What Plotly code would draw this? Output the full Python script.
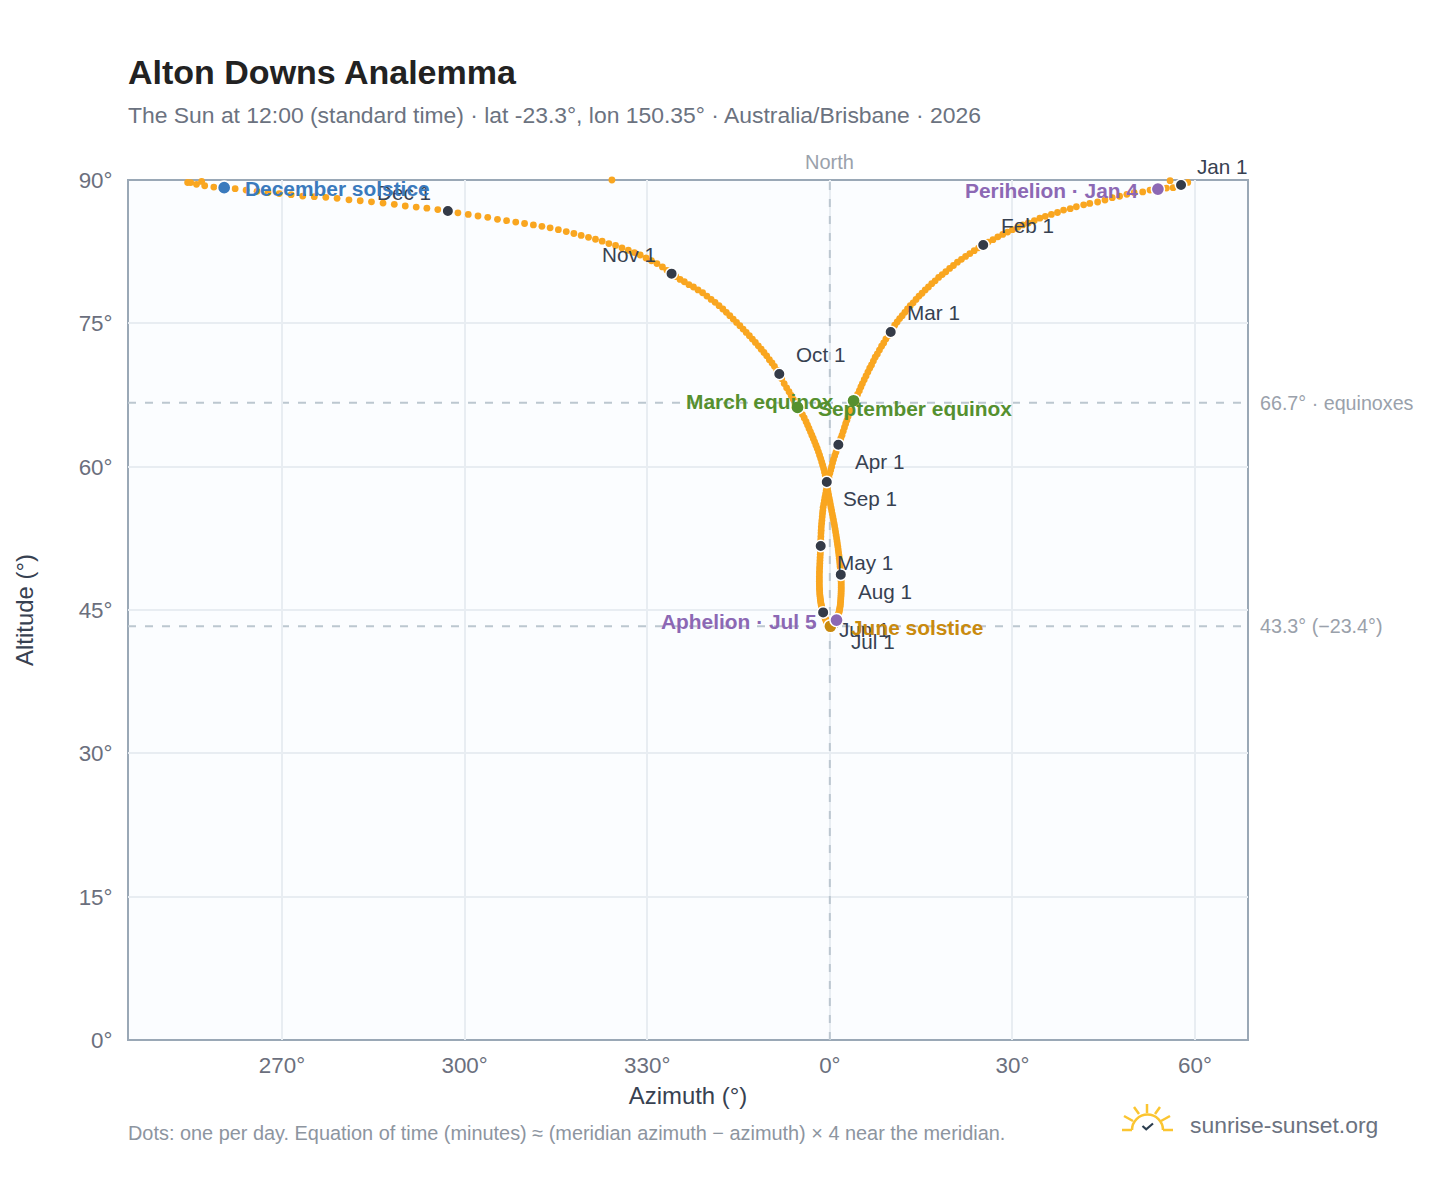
import plotly.graph_objects as go

# Daily sun positions (azimuth relative to north, altitude), degrees
az_jan = [57.7,56.4,55.3,53.9,52.6,51.4,50.0,48.8,47.6,46.4,45.2,44.0,42.7,41.7,40.5,39.5,38.4,37.4,36.4,35.4,34.5,33.6,32.6,31.7,30.9,30.0,29.2,28.4,27.6,26.8,26.0]
alt_jan = [89.47,89.2,89.15,89.05,88.95,88.75,88.67,88.5,88.3,88.15,87.9,87.7,87.55,87.4,87.2,87.0,86.85,86.6,86.4,86.2,86.0,85.75,85.5,85.3,85.05,84.8,84.55,84.3,84.05,83.75,83.5]
az_feb = [25.2,24.45,23.72,23.0,22.3,21.62,20.96,20.31,19.68,19.06,18.46,17.87,17.3,16.74,16.2,15.67,15.15,14.65,14.16,13.68,13.21,12.76,12.32,11.89,11.47,11.06,10.66,10.35]
alt_feb = [83.2,82.9,82.6,82.3,82.0,81.7,81.4,81.05,80.75,80.4,80.1,79.8,79.45,79.15,78.8,78.5,78.15,77.85,77.5,77.15,76.85,76.5,76.15,75.8,75.5,75.15,74.8,74.45]
az_mar = [10.0,9.6,9.2,8.85,8.5,8.15,7.8,7.45,7.15,6.85,6.55,6.25,5.95,5.65,5.35,5.1,4.85,4.55,4.2,3.9,3.65,3.4,3.2,3.0,2.8,2.6,2.4,2.2,2.0,1.8,1.6]
alt_mar = [74.1,73.7,73.35,72.95,72.6,72.2,71.8,71.45,71.05,70.65,70.3,69.9,69.5,69.1,68.7,68.35,67.95,67.55,67.2,66.9,66.45,66.05,65.65,65.25,64.85,64.5,64.1,63.7,63.3,62.95,62.6]
az_apr = [1.4,1.2,1.0,0.8,0.6,0.45,0.3,0.15,0.0,-0.15,-0.3,-0.4,-0.5,-0.6,-0.7,-0.8,-0.9,-1.0,-1.1,-1.15,-1.2,-1.25,-1.3,-1.35,-1.4,-1.42,-1.45,-1.47,-1.49,-1.5]
alt_apr = [62.3,61.9,61.5,61.15,60.75,60.4,60.0,59.65,59.3,58.9,58.55,58.2,57.85,57.5,57.15,56.8,56.45,56.1,55.75,55.4,55.1,54.75,54.4,54.05,53.7,53.35,53.05,52.7,52.35,52.05]
az_may = [-1.5,-1.52,-1.55,-1.57,-1.6,-1.62,-1.64,-1.66,-1.68,-1.7,-1.71,-1.72,-1.72,-1.72,-1.72,-1.71,-1.7,-1.68,-1.66,-1.64,-1.6,-1.57,-1.53,-1.49,-1.45,-1.4,-1.35,-1.3,-1.25,-1.2,-1.15]
alt_may = [51.7,51.4,51.1,50.8,50.5,50.2,49.9,49.6,49.35,49.05,48.8,48.5,48.25,48.0,47.75,47.5,47.25,47.05,46.8,46.6,46.4,46.2,46.0,45.85,45.65,45.5,45.35,45.2,45.05,44.9,44.85]
az_jun = [-1.1,-1.04,-0.98,-0.92,-0.86,-0.8,-0.74,-0.68,-0.62,-0.56,-0.5,-0.44,-0.38,-0.32,-0.26,-0.2,-0.14,-0.08,-0.02,0.04,0.1,0.16,0.22,0.28,0.34,0.4,0.46,0.52,0.58,0.64]
alt_jun = [44.75,44.6,44.5,44.4,44.3,44.2,44.1,44.0,43.9,43.85,43.75,43.7,43.6,43.55,43.5,43.45,43.4,43.35,43.33,43.3,43.3,43.3,43.3,43.32,43.34,43.37,43.4,43.43,43.46,43.48]
az_jul = [0.7,0.8,0.9,1.0,1.1,1.18,1.25,1.32,1.38,1.44,1.5,1.55,1.6,1.65,1.69,1.72,1.75,1.78,1.8,1.82,1.84,1.85,1.86,1.87,1.87,1.87,1.87,1.86,1.85,1.84,1.82]
alt_jul = [43.5,43.6,43.7,43.8,43.95,44.05,44.2,44.3,44.45,44.6,44.75,44.9,45.05,45.2,45.4,45.55,45.75,45.95,46.15,46.35,46.55,46.75,46.95,47.15,47.35,47.55,47.75,47.95,48.15,48.3,48.5]
az_aug = [1.8,1.77,1.73,1.69,1.65,1.6,1.55,1.5,1.44,1.38,1.32,1.25,1.18,1.11,1.03,0.95,0.87,0.78,0.69,0.6,0.5,0.4,0.3,0.2,0.1,0.0,-0.1,-0.2,-0.3,-0.4,-0.45]
alt_aug = [48.7,48.98,49.26,49.55,49.83,50.12,50.42,50.71,51.01,51.31,51.61,51.92,52.22,52.53,52.84,53.15,53.47,53.79,54.1,54.42,54.74,55.07,55.39,55.72,56.05,56.38,56.71,57.04,57.37,57.71,58.05]
az_sep = [-0.5,-0.62,-0.75,-0.88,-1.02,-1.17,-1.33,-1.5,-1.68,-1.87,-2.07,-2.28,-2.5,-2.72,-2.95,-3.18,-3.42,-3.66,-3.9,-4.2,-4.5,-4.9,-5.3,-5.65,-6.0,-6.35,-6.7,-7.1,-7.5,-7.9]
alt_sep = [58.4,58.75,59.1,59.45,59.8,60.15,60.5,60.85,61.2,61.55,61.9,62.25,62.6,62.95,63.3,63.65,64.0,64.35,64.7,65.1,65.45,65.85,66.2,66.65,67.05,67.45,67.85,68.25,68.7,69.2]
az_oct = [-8.3,-8.7,-9.1,-9.5,-9.93,-10.37,-10.82,-11.28,-11.75,-12.23,-12.72,-13.22,-13.73,-14.25,-14.78,-15.32,-15.87,-16.43,-17.0,-17.58,-18.2,-18.85,-19.5,-20.2,-20.9,-21.65,-22.4,-23.15,-23.9,-24.6,-25.3]
alt_oct = [69.7,70.1,70.5,70.85,71.2,71.6,71.95,72.3,72.65,73.0,73.35,73.7,74.05,74.4,74.75,75.1,75.45,75.8,76.15,76.5,76.85,77.2,77.5,77.85,78.2,78.5,78.8,79.05,79.35,79.6,79.9]
az_nov = [-26.0,-26.75,-27.5,-28.4,-29.3,-30.2,-31.15,-32.1,-33.1,-34.15,-35.2,-36.3,-37.4,-38.5,-39.65,-40.85,-42.05,-43.3,-44.6,-45.95,-47.3,-48.7,-50.15,-51.6,-53.1,-54.6,-56.2,-57.8,-59.4,-61.1]
alt_nov = [80.2,80.55,80.9,81.25,81.55,81.85,82.15,82.4,82.65,82.9,83.15,83.35,83.6,83.8,84.0,84.2,84.4,84.6,84.8,85.0,85.15,85.3,85.45,85.6,85.74,85.88,86.09,86.23,86.4,86.57]
az_dec = [-62.75,-64.4,-66.2,-67.95,-69.75,-71.55,-73.4,-75.3,-77.15,-79.0,-80.95,-82.8,-84.7,-86.6,-88.5,-90.45,-92.3,-94.1,-95.9,-97.7,-99.5,-101.2,-102.7,-104.05,-105.0,-105.5,-103.2,-35.8,55.9,58.0,58.8]
alt_dec = [86.75,86.9,87.05,87.17,87.28,87.45,87.59,87.72,87.83,87.93,88.08,88.19,88.25,88.32,88.46,88.58,88.69,88.81,88.95,89.09,89.2,89.26,89.4,89.55,89.73,89.74,89.85,90.0,89.93,89.6,89.75]

azimuth = az_jan+az_feb+az_mar+az_apr+az_may+az_jun+az_jul+az_aug+az_sep+az_oct+az_nov+az_dec
altitude = alt_jan+alt_feb+alt_mar+alt_apr+alt_may+alt_jun+alt_jul+alt_aug+alt_sep+alt_oct+alt_nov+alt_dec

month_labels = ["Jan 1","Feb 1","Mar 1","Apr 1","May 1","Jun 1","Jul 1","Aug 1","Sep 1","Oct 1","Nov 1","Dec 1"]
month_az = [az_jan[0],az_feb[0],az_mar[0],az_apr[0],az_may[0],az_jun[0],az_jul[0],az_aug[0],az_sep[0],az_oct[0],az_nov[0],az_dec[0]]
month_alt = [alt_jan[0],alt_feb[0],alt_mar[0],alt_apr[0],alt_may[0],alt_jun[0],alt_jul[0],alt_aug[0],alt_sep[0],alt_oct[0],alt_nov[0],alt_dec[0]]
month_offset = [(14,-19,"left"),(16,-19,"left"),(14,-19,"left"),(15,17,"left"),(14,17,"left"),(14,17,"left"),(15,17,"left"),(15,17,"left"),(14,17,"left"),(15,-19,"left"),(-14,-19,"right"),(-15,-19,"right")]

event_labels = ["June solstice","December solstice","March equinox","September equinox","Perihelion · Jan 4","Aphelion · Jul 5"]
event_az = [az_jun[20],az_dec[20],az_mar[19],az_sep[22],az_jan[3],az_jul[4]]
event_alt = [alt_jun[20],alt_dec[20],alt_mar[19],alt_sep[22],alt_jan[3],alt_jul[4]]
event_colors = ["#c98a0e","#3a7abd","#55902f","#55902f","#8c68b4","#8c68b4"]
event_offset = [(19,1,"left"),(19,1,"left"),(-18,1,"right"),(18,1,"left"),(-18,1,"right"),(-18,1,"right")]

x_ticks = [-90,-60,-30,0,30,60]
x_labels = ["270°","300°","330°","0°","30°","60°"]
y_ticks = [0,15,30,45,60,75,90]
y_labels = ["0°","15°","30°","45°","60°","75°","90°"]
guide_alts = [66.7,43.3]
guide_labels = ["66.7° · equinoxes","43.3° (−23.4°)"]
north_az = [0,0]
north_alt = [0,90]

FONT = "Liberation Sans"
W, H = 1448, 1188
L, R, T, B = 128, 1248, 180, 1040
px = lambda v: (v-L)/(R-L)
py = lambda v: (B-v)/(B-T)

fig = go.Figure()
fig.add_trace(go.Scatter(x=north_az,y=north_alt,mode="lines",showlegend=False,
    line=dict(color="#bcc7d0",width=2,dash="8px,9px")))
fig.add_trace(go.Scatter(x=azimuth,y=altitude,mode="markers",cliponaxis=False,showlegend=False,
    marker=dict(color="#f9a620",size=6.8,line=dict(width=0))))
fig.add_trace(go.Scatter(x=month_az,y=month_alt,mode="markers",cliponaxis=False,showlegend=False,
    marker=dict(color="#343b48",size=11.5,line=dict(width=1.5,color="white"))))
fig.add_trace(go.Scatter(x=event_az,y=event_alt,mode="markers",cliponaxis=False,showlegend=False,
    marker=dict(color=event_colors,size=13.2,line=dict(width=1.5,color="white"))))

ann = []
for t,x,y,(dx,dy,anc) in zip(month_labels,month_az,month_alt,month_offset):
    ann.append(dict(x=x,y=y,text=t,showarrow=False,xanchor=anc,yanchor="middle",xshift=dx,yshift=-dy,
        font=dict(family=FONT,size=20.7,color="#374151")))
for t,x,y,c,(dx,dy,anc) in zip(event_labels,event_az,event_alt,event_colors,event_offset):
    ann.append(dict(x=x,y=y,text="<b>%s</b>"%t,showarrow=False,xanchor=anc,yanchor="middle",xshift=dx,yshift=-dy,
        font=dict(family=FONT,size=20.9,color=c)))
for t,y in zip(guide_labels,guide_alts):
    ann.append(dict(xref="paper",x=1,y=y,text=t,showarrow=False,xanchor="left",yanchor="middle",xshift=10,
        font=dict(family=FONT,size=19.7,color="#9aa1ab")))
ann.append(dict(x=0,yref="paper",y=1,text="North",showarrow=False,xanchor="center",yanchor="bottom",yshift=5,
    font=dict(family=FONT,size=20,color="#9aa1ab")))
def ptext(t,x,y,size,color,anchor="left",bold=False):
    return dict(xref="paper",yref="paper",x=px(x),y=py(y),text="<b>%s</b>"%t if bold else t,showarrow=False,
        xanchor=anchor,yanchor="middle",font=dict(family=FONT,size=size,color=color))
ann += [
    ptext("Alton Downs Analemma",126,72,34,"#222222",bold=True),
    ptext("The Sun at 12:00 (standard time) · lat -23.3°, lon 150.35° · Australia/Brisbane · 2026",126,115,22.9,"#6b7280"),
    ptext("Dots: one per day. Equation of time (minutes) ≈ (meridian azimuth − azimuth) × 4 near the meridian.",126,1133,19.9,"#8d959f"),
    ptext("sunrise-sunset.org",1188,1125,22.9,"#6b7280"),
]

# plot frame drawn centred on the plot edge
shapes = [dict(type="rect",xref="paper",yref="paper",x0=0,x1=1,y0=0,y1=1,layer="below",line=dict(color="#9aa8b6",width=2),fillcolor="rgba(0,0,0,0)")]
for y in guide_alts:
    shapes.append(dict(type="line",xref="paper",x0=0,x1=1,y0=y,y1=y,layer="below",line=dict(color="#bcc7d0",width=2,dash="8px,9px")))

# Logo
SUN = "#fbc531"
def seg(a,b,color=SUN,width=2.5):
    return dict(type="line",xref="paper",yref="paper",x0=px(a[0]),y0=py(a[1]),x1=px(b[0]),y1=py(b[1]),line=dict(color=color,width=width))
for a,b in [((1122,1130),(1132,1130)),((1163,1130),(1173,1130)),((1147,1104),(1147,1113)),
            ((1134,1107),(1139,1114)),((1160,1107),(1155,1114)),((1124,1116),(1133,1121)),((1170,1116),(1161,1121))]:
    shapes.append(seg(a,b))
cx, cy, r, k = 1147.5, 1130, 15.5, 8.56
pts = lambda x,y: "%.5f %.5f"%(px(x),py(y))
shapes.append(dict(type="path",xref="paper",yref="paper",line=dict(color=SUN,width=2.5),
    path="M %s C %s, %s, %s C %s, %s, %s"%(pts(cx-r,cy),pts(cx-r,cy-k),pts(cx-k,cy-r),pts(cx,cy-r),pts(cx+k,cy-r),pts(cx+r,cy-k),pts(cx+r,cy))))
shapes.append(dict(type="path",xref="paper",yref="paper",line=dict(color="#2c3e50",width=2.2),
    path="M %s L %s L %s"%(pts(1142.5,1126),pts(1146.2,1129.3),pts(1153,1123.5))))

fig.update_layout(width=W,height=H,margin=dict(l=L,r=W-R,t=T,b=H-B,pad=0),autosize=False,
    paper_bgcolor="white",plot_bgcolor="#fbfdff",showlegend=False,annotations=ann,shapes=shapes,
    font=dict(family=FONT))
axis_common = dict(showline=False,showgrid=True,gridcolor="#e8edf2",gridwidth=2,
    zeroline=False,tickcolor="rgba(0,0,0,0)",ticks="outside",tickfont=dict(family=FONT,size=22.4,color="#6b6f7d"))
fig.update_xaxes(range=[-115.3,68.7],tickmode="array",tickvals=x_ticks,ticktext=x_labels,ticklen=5,
    title=dict(text="Azimuth (°)",standoff=10,font=dict(family=FONT,size=23.9,color="#374151")),**axis_common)
fig.update_yaxes(range=[0,90],tickmode="array",tickvals=y_ticks,ticktext=y_labels,ticklen=10,
    title=dict(text="Altitude (°)",standoff=38,font=dict(family=FONT,size=23.9,color="#374151")),**axis_common)

fig.write_html("out.html",config={"displayModeBar":False},post_script="document.body.style.margin='0';document.body.style.overflow='hidden';")
